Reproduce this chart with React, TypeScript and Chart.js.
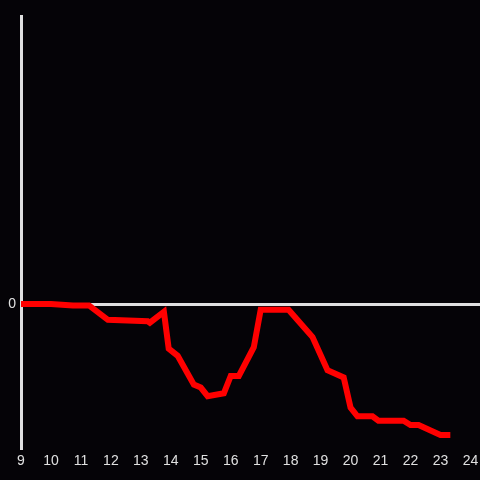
import React, { useEffect, useRef } from "react";
import { Chart, registerables } from "chart.js";

Chart.register(...registerables);

const hours = [9.0, 10.0, 10.73, 11.27, 11.9, 13.23, 13.3, 13.77, 13.93, 14.23, 14.77, 15.0, 15.23, 15.77, 16.0, 16.27, 16.77, 17.0, 17.93, 18.73, 19.23, 19.77, 20.0, 20.23, 20.73, 20.93, 21.77, 22.0, 22.27, 23.0, 23.33];
const values = [0, 0, -0.01, -0.01, -0.11, -0.12, -0.13, -0.055, -0.31, -0.36, -0.56, -0.58, -0.64, -0.62, -0.5, -0.5, -0.3, -0.04, -0.04, -0.23, -0.46, -0.51, -0.72, -0.78, -0.78, -0.81, -0.81, -0.84, -0.84, -0.91, -0.91];
const xTickLabels = [9, 10, 11, 12, 13, 14, 15, 16, 17, 18, 19, 20, 21, 22, 23, 24];
const yTickLabels = [0];

export default function App() {
  const ref = useRef<HTMLCanvasElement | null>(null);
  useEffect(() => {
    if (!ref.current) return;
    const axisColor = "#e0e0e0";
    const chart = new Chart(ref.current, {
      type: "line",
      data: {
        datasets: [
          {
            data: hours.map((h, i) => ({ x: h, y: values[i] })),
            borderColor: "#ff0000",
            borderWidth: 6,
            pointRadius: 0,
            tension: 0,
            fill: false,
          },
        ],
      },
      options: {
        animation: false,
        responsive: false,
        maintainAspectRatio: false,
        layout: { padding: { top: 16, right: 0, left: 0, bottom: 0 } },
        plugins: { legend: { display: false }, tooltip: { enabled: false } },
        scales: {
          x: {
            type: "linear",
            min: 9,
            max: 24.32,
            afterBuildTicks: (s: any) => {
              s.ticks = xTickLabels.map((v) => ({ value: v }));
            },
            afterFit: (s: any) => {
              s.height = 32;
              s.paddingLeft = 0;
              s.paddingRight = 0;
            },
            grid: { display: false, drawTicks: false },
            border: { display: false },
            ticks: {
              color: axisColor,
              font: { size: 14, family: "Liberation Sans, Arial, sans-serif" },
              padding: 5,
              maxRotation: 0,
              autoSkip: false,
            },
          },
          y: {
            type: "linear",
            min: -1,
            max: 2,
            afterBuildTicks: (s: any) => {
              s.ticks = yTickLabels.map((v) => ({ value: v }));
            },
            afterFit: (s: any) => {
              s.width = 21;
            },
            grid: {
              color: axisColor,
              lineWidth: 3,
              drawTicks: false,
            },
            border: { display: true, color: axisColor, width: 3 },
            ticks: {
              color: axisColor,
              font: { size: 14, family: "Liberation Sans, Arial, sans-serif" },
              padding: 5,
            },
          },
        },
      },
    });
    return () => chart.destroy();
  }, []);
  return (
    <div style={{ position: "fixed", left: 0, top: 0, width: 480, height: 480, background: "#050307" }}>
      <canvas ref={ref} width={480} height={480} style={{ width: 480, height: 480, display: "block" }} />
    </div>
  );
}
